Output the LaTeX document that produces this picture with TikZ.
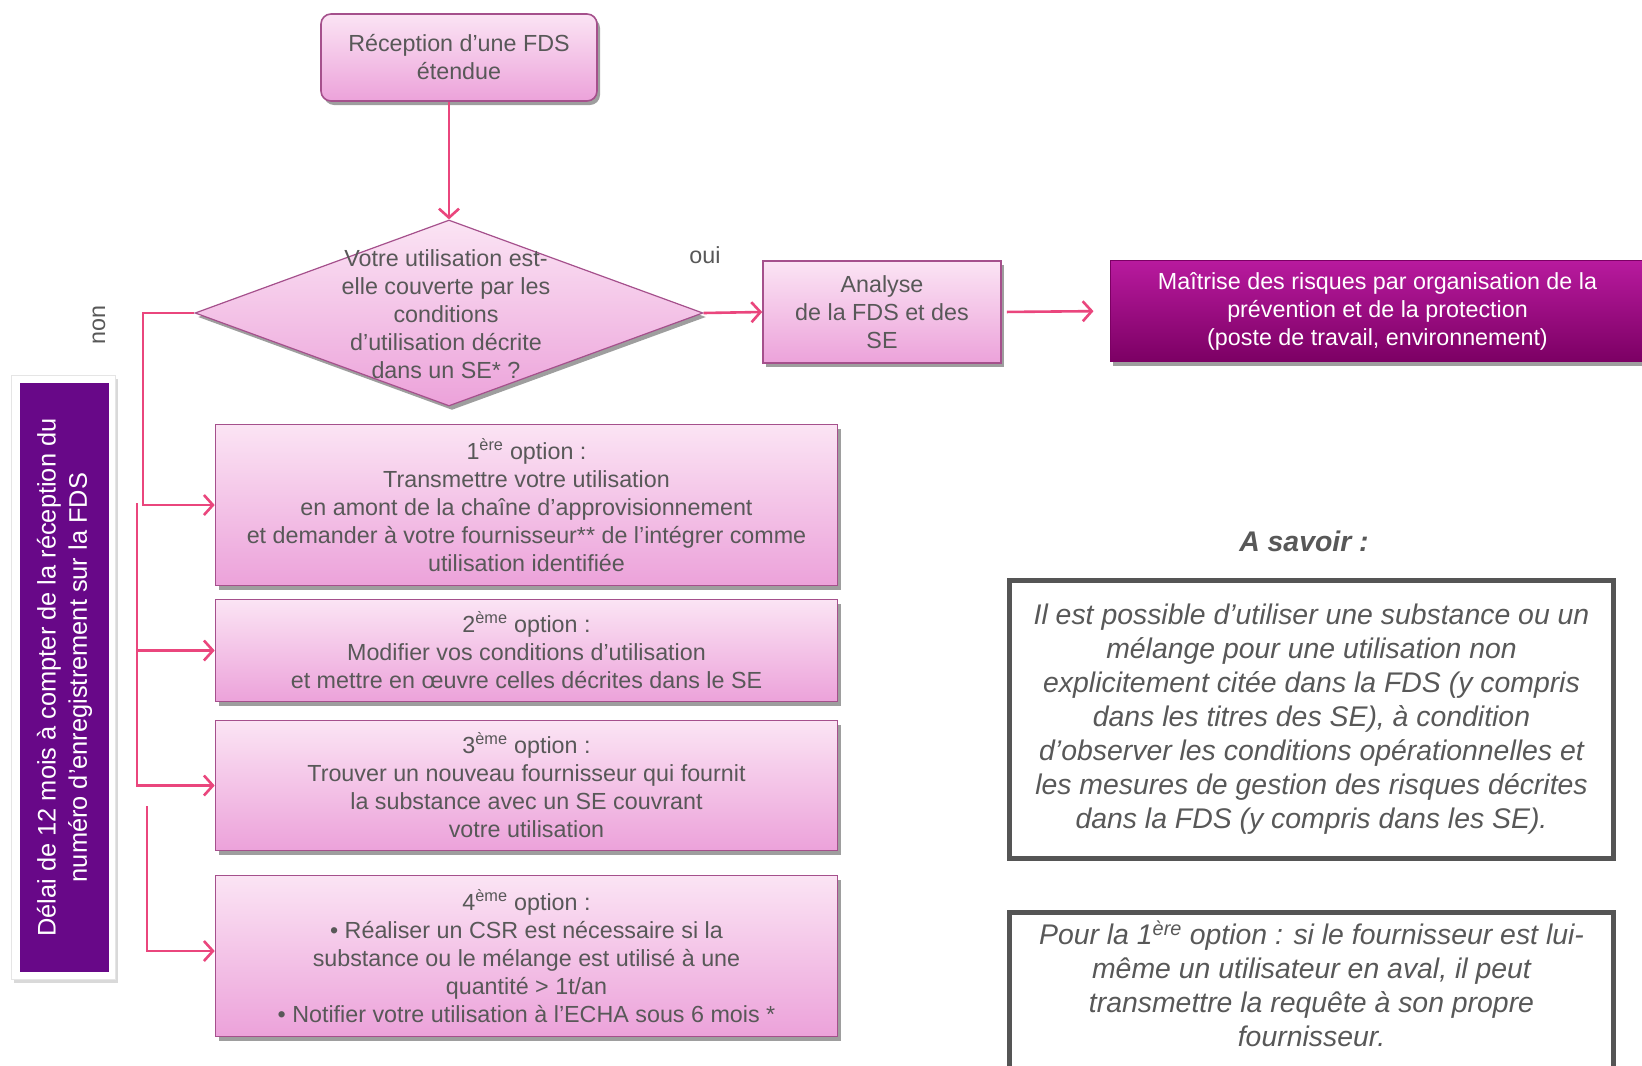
\documentclass[tikz,border=0pt]{standalone}
\usepackage{fontspec}
\setmainfont{Liberation Sans}
\usetikzlibrary{shapes.geometric,arrows.meta,shadows,calc}
\definecolor{pinkA}{RGB}{251,228,244}
\definecolor{pinkB}{RGB}{236,162,218}
\definecolor{pinkBorder}{RGB}{165,80,140}
\definecolor{arrowpink}{RGB}{234,70,125}
\definecolor{txtgrey}{RGB}{88,88,88}
\definecolor{magA}{RGB}{184,26,158}
\definecolor{magB}{RGB}{124,0,100}
\definecolor{purp}{RGB}{104,8,136}
\definecolor{boxgrey}{RGB}{85,85,85}
\begin{document}
\begin{tikzpicture}[x=1pt,y=-1pt,
  basefont/.style={font=\fontsize{23.3}{28}\selectfont},
  shad/.style={drop shadow={shadow xshift=3pt, shadow yshift=-4pt, fill=black, opacity=0.38}},
  pinkbox/.style={draw=pinkBorder, line width=1.6pt, top color=pinkA, bottom color=pinkB,
    text=txtgrey, align=center, inner sep=0pt, basefont, shad},
  conn/.style={draw=arrowpink, line width=2.6pt, -{Straight Barb[length=9pt,width=20pt]}},
  infobox/.style={draw=boxgrey, line width=5pt, fill=white, inner sep=0pt, align=center, text=txtgrey,
    font=\fontsize{28.4}{34}\selectfont\itshape}
]
\useasboundingbox (0,0) rectangle (1642,1066);
\clip (0,0) rectangle (1642,1066);
\fill[white] (0,0) rectangle (1642,1066);

% top box
\node[pinkbox, rounded corners=10pt, minimum width=276pt, minimum height=87pt] (top) at (459,57.5)
  {Réception d’une FDS\\étendue};

% diamond
\node[diamond, draw=pinkBorder, line width=1.2pt, top color=pinkA, bottom color=pinkB,
  minimum width=508pt, minimum height=186pt, inner sep=0pt, shad] (dia) at (449,313) {};
\node[basefont, text=txtgrey, align=center] (diatxt) at (446,314)
  {Votre utilisation est-\\elle couverte par les\\conditions\\d’utilisation décrite\\dans un SE* ?};

% analyse
\node[pinkbox, minimum width=238pt, minimum height=102pt] (ana) at (882,312)
  {Analyse\\de la FDS et des\\SE};

% maitrise
\node[draw=magB, line width=1pt, top color=magA, bottom color=magB, text=white, align=center,
  inner sep=0pt, basefont, minimum width=535pt, minimum height=101pt, shad] (mai) at (1377.5,311)
  {Maîtrise des risques par organisation de la\\prévention et de la protection\\(poste de travail, environnement)};

% labels
\node[basefont, text=txtgrey] (oui) at (705,255) {oui};
\node[basefont, text=txtgrey, rotate=90] (non) at (99,325) {non};

% purple delay box
\node[fill=white, draw=black!10, line width=1pt, minimum width=104pt, minimum height=604pt,
  drop shadow={shadow xshift=2pt, shadow yshift=-3pt, fill=black, opacity=0.15}] (frame) at (63.5,677.5) {};
\node[fill=purp, rotate=90, text=white, align=center, inner sep=0pt,
  minimum width=589pt, minimum height=89pt, font=\fontsize{25.4}{31.4}\selectfont] (delai) at (64.5,677.5)
  {Délai de 12 mois à compter de la réception du\\numéro d’enregistrement sur la FDS};

% options
\node[pinkbox, minimum width=622pt, minimum height=161pt] (o1) at (526.5,505)
  {1\textsuperscript{ère} option :\\Transmettre votre utilisation\\en amont de la chaîne d’approvisionnement\\et demander à votre fournisseur** de l’intégrer comme\\utilisation identifiée};
\node[pinkbox, minimum width=622pt, minimum height=102pt] (o2) at (526.5,650.5)
  {2\textsuperscript{ème} option :\\Modifier vos conditions d’utilisation\\et mettre en œuvre celles décrites dans le SE};
\node[pinkbox, minimum width=622pt, minimum height=130pt] (o3) at (526.5,785.5)
  {3\textsuperscript{ème} option :\\Trouver un nouveau fournisseur qui fournit\\la substance avec un SE couvrant\\votre utilisation};
\node[pinkbox, minimum width=622pt, minimum height=161pt] (o4) at (526.5,956)
  {4\textsuperscript{ème} option :\\• Réaliser un CSR est nécessaire si la\\substance ou le mélange est utilisé à une\\quantité > 1t/an\\• Notifier votre utilisation à l’ECHA sous 6 mois *};

% connectors
\draw[conn] (top.south -| dia.north) -- (dia.north);
\draw[conn] (dia.east) -- (ana.west);
\draw[conn, shorten <=5pt, shorten >=16pt] (ana.east) -- (mai.west);
\coordinate (jA) at (143,313);
\draw[conn] (dia.west) -- (jA) |- (o1.west);
\coordinate (jB) at (137,503);
\draw[conn] (jB) |- (o2.west);
\draw[conn] (jB) |- (o3.west);
\coordinate (jC) at (147,806);
\draw[conn] (jC) |- ([yshift=5pt]o4.west);

% right side
\node[font=\fontsize{28.4}{34}\selectfont\bfseries\itshape, text=txtgrey] (asav) at (1304,541) {A savoir :};
\node[infobox, minimum width=604pt, minimum height=278pt] (boxA) at (1311.5,719.5)
  {Il est possible d’utiliser une substance ou un\\mélange pour une utilisation non\\explicitement citée dans la FDS (y compris\\dans les titres des SE), à condition\\d’observer les conditions opérationnelles et\\les mesures de gestion des risques décrites\\dans la FDS (y compris dans les SE).};
\node[infobox, minimum width=604pt, minimum height=200pt, anchor=north] (boxB) at (1311.5,909.5) {};
\node[font=\fontsize{28.4}{34}\selectfont\itshape, text=txtgrey, align=center] (boxBtxt) at (1311.5,984)
  {Pour la 1\textsuperscript{ère} option : si le fournisseur est lui-\\même un utilisateur en aval, il peut\\transmettre la requête à son propre\\fournisseur.};
\end{tikzpicture}
\end{document}
